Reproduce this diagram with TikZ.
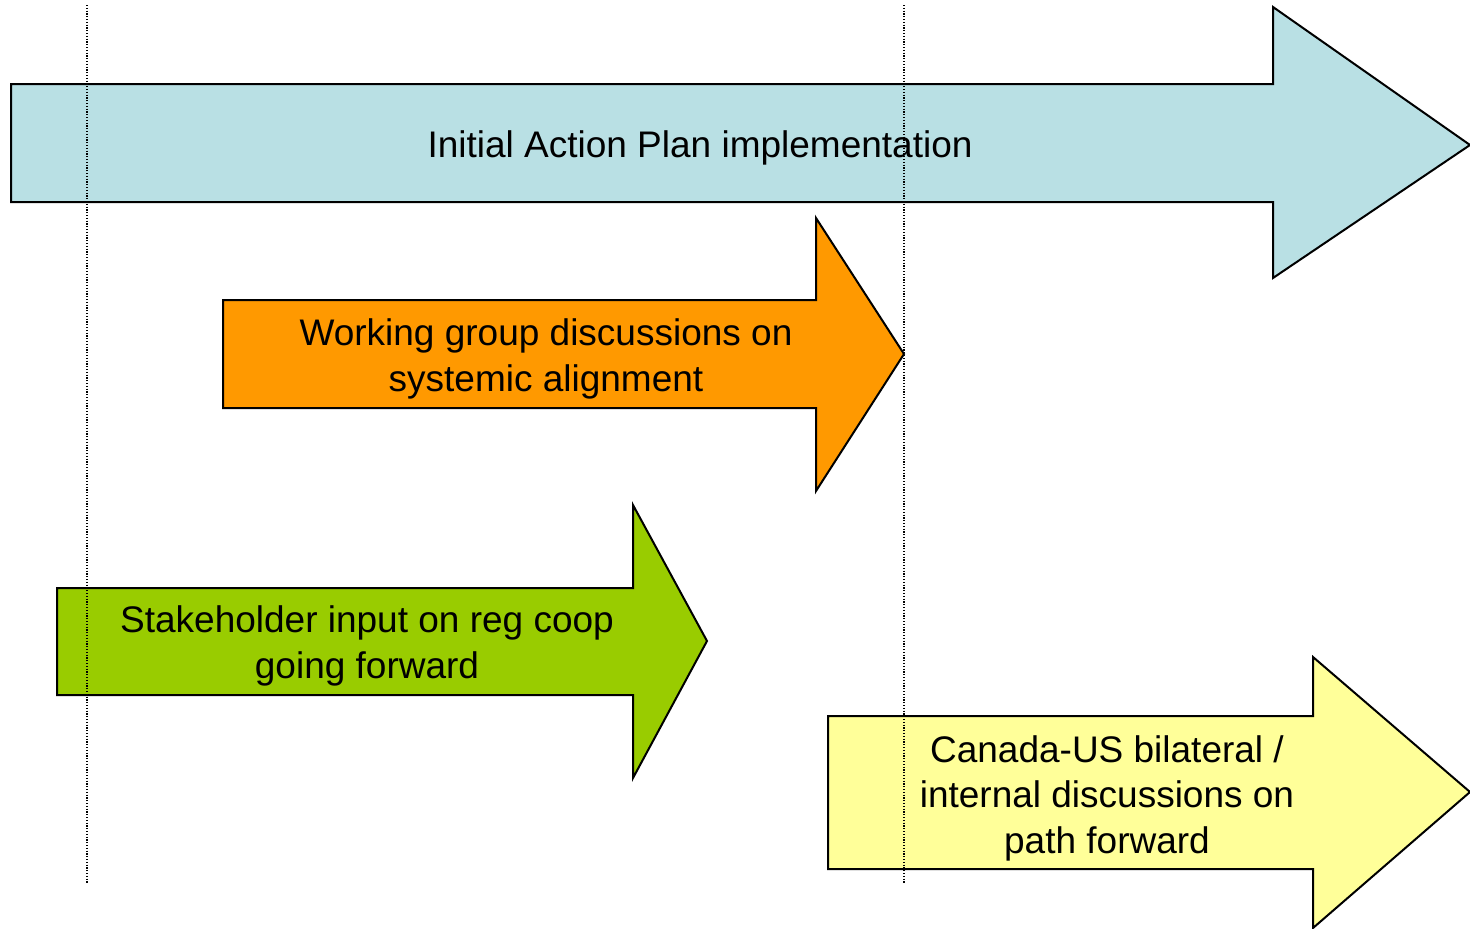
\documentclass[tikz,border=0pt]{standalone}
\usepackage{fontspec}
\setmainfont{Liberation Sans}
\definecolor{planblue}{HTML}{B9E0E4}
\definecolor{workorange}{HTML}{FF9900}
\definecolor{stakegreen}{HTML}{99CC00}
\definecolor{bilatyellow}{HTML}{FFFF99}
\tikzset{
  bigarrow/.style={draw=black,line width=2pt,line join=miter},
  arrowtext/.style={align=center,font=\fontsize{37}{45.5}\selectfont,inner sep=0pt},
  timeline/.style={line width=1.3pt,dash pattern=on 1.2pt off 1.6pt}
}
\begin{document}
\begin{tikzpicture}[x=1pt,y=-1pt]
              \useasboundingbox (0,0) rectangle (1470,929);
              % initial action plan
              \filldraw[bigarrow,fill=planblue] (11,84) -- (1273,84) -- (1273,7) -- (1470,145)
                    -- (1273,278) -- (1273,202) -- (11,202) -- cycle;
              \node[arrowtext] (plan) at (700,148) {Initial Action Plan implementation};
              % working group
              \filldraw[bigarrow,fill=workorange] (223,300) -- (816,300) -- (816,218) -- (904,354)
                    -- (816,491) -- (816,408) -- (223,408) -- cycle;
              \node[arrowtext] (work) at (546,359) {Working group discussions on\\systemic alignment};
              % stakeholders
              \filldraw[bigarrow,fill=stakegreen] (57,588) -- (633,588) -- (633,505) -- (707,641)
                    -- (633,778) -- (633,695) -- (57,695) -- cycle;
              \node[arrowtext] (stake) at (367,646) {Stakeholder input on reg coop\\going forward};
              % bilateral
              \filldraw[bigarrow,fill=bilatyellow] (828,716) -- (1313,716) -- (1313,657) -- (1470,792)
                    -- (1313,928) -- (1313,869) -- (828,869) -- cycle;
              \node[arrowtext] (bilat) at (1107,798) {Canada-US bilateral /\\internal discussions on\\path forward};
              % time marks
              \coordinate (starttop) at (87,5);
              \coordinate (startbot) at (87,883);
              \coordinate (midtop) at (904,5);
              \coordinate (midbot) at (904,883);
              \draw[timeline] (starttop) -- (startbot);
              \draw[timeline] (midtop) -- (midbot);
        \end{tikzpicture}
\end{document}
